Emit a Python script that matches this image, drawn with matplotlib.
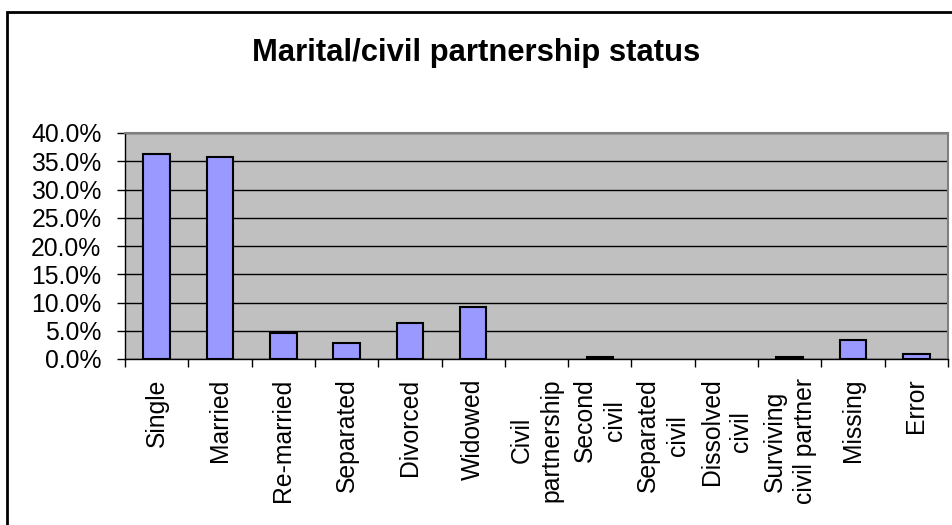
import matplotlib
matplotlib.use("Agg")
import matplotlib.pyplot as plt
from matplotlib.patches import Rectangle
from matplotlib.ticker import FuncFormatter, FixedLocator, NullFormatter

plt.rcParams['font.family'] = ['Liberation Sans', 'DejaVu Sans']

categories = ["Single", "Married", "Re-married", "Separated", "Divorced",
              "Widowed", "Civil\npartnership", "Second\ncivil",
              "Separated\ncivil", "Dissolved\ncivil",
              "Surviving\ncivil partner", "Missing", "Error"]
shares = [36.2, 35.8, 4.65, 2.9, 6.4, 9.25, 0.0, 0.4, 0.0, 0.0, 0.4, 3.3, 0.8]
yticks = [0, 5, 10, 15, 20, 25, 30, 35, 40]

fig = plt.figure(figsize=(9.52, 5.25), dpi=100)
ax = fig.add_axes([125 / 952, 1 - 359 / 525, 823 / 952, 226 / 525])

x = list(range(len(categories)))
# empty categories get no outline at all
edges = ["black" if v > 0 else "none" for v in shares]
ax.bar(x, shares, width=0.42, color="#9999FF", edgecolor=edges,
       linewidth=1.5, zorder=3)

ax.set_facecolor("#C0C0C0")
ax.set_xlim(-0.5, len(categories) - 0.5)
ax.set_ylim(0, 40)

ax.set_yticks(yticks)
ax.yaxis.set_major_formatter(FuncFormatter(lambda v, p: "%.1f%%" % v))
ax.yaxis.grid(True, color="black", linewidth=1, zorder=1)
ax.tick_params(axis="y", labelsize=17.8, length=6, width=1, direction="out", pad=11)

# ticks between categories, labels at centres
ax.xaxis.set_major_locator(FixedLocator([i - 0.5 for i in range(len(categories) + 1)]))
ax.xaxis.set_major_formatter(NullFormatter())
ax.xaxis.set_minor_locator(FixedLocator(x))
ax.set_xticklabels(categories, minor=True, rotation=90, ha="center", va="top",
                   fontsize=17.8, linespacing=1.3, multialignment="center")
ax.tick_params(axis="x", which="major", length=6, width=1, direction="out")
ax.tick_params(axis="x", which="minor", length=0, pad=14)

for side in ["top", "right"]:
    ax.spines[side].set_color("#808080")
    ax.spines[side].set_linewidth(1.5)
for side in ["left", "bottom"]:
    ax.spines[side].set_color("black")
    ax.spines[side].set_linewidth(1)

fig.text(0.5, 1 - 53 / 525, "Marital/civil partnership status", ha="center",
         va="center", fontsize=22.3, fontweight="bold")

fig.patches.append(Rectangle((7 / 952, -0.05), 1.0, 1 - 12 / 525 + 0.05,
                             transform=fig.transFigure, fill=False,
                             edgecolor="black", linewidth=2))

fig.savefig("out.png", dpi=100)
